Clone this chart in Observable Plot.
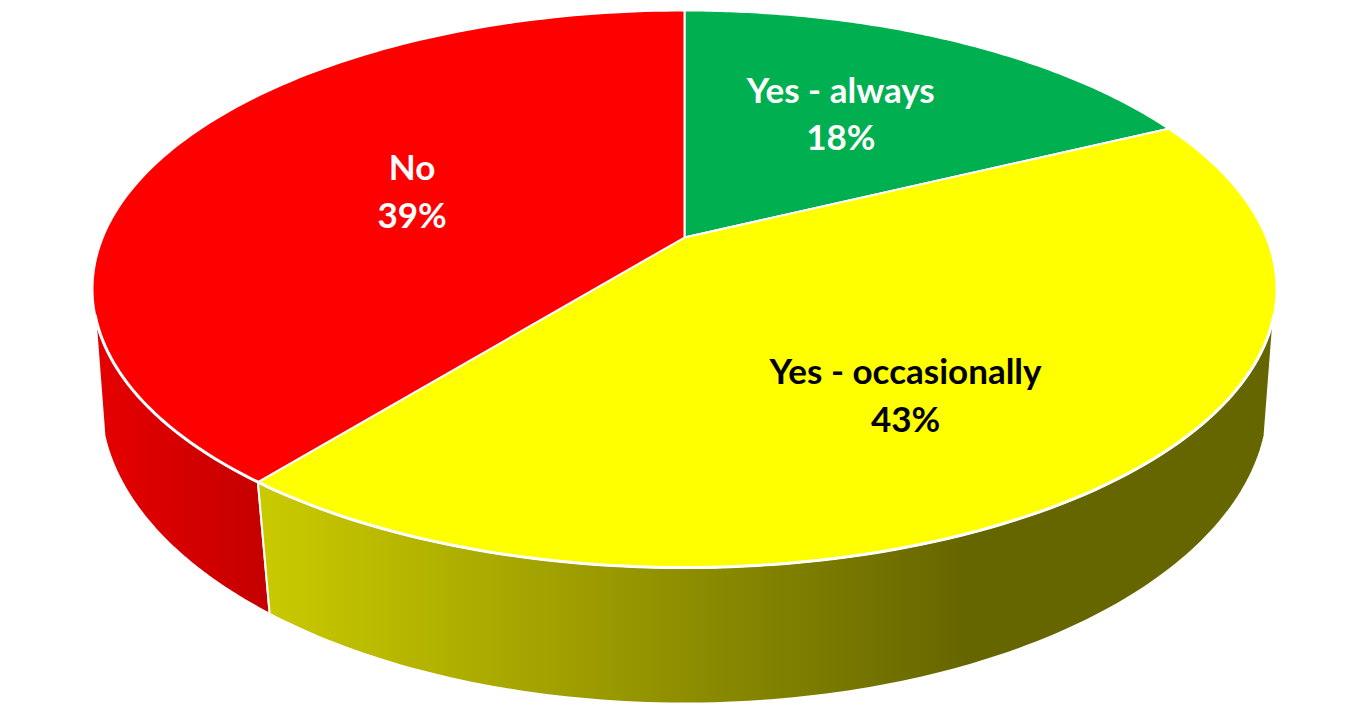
<!DOCTYPE html>
<html>
<head>
<meta charset="utf-8">
<style>html,body{margin:0;padding:0;background:#fff;overflow:hidden}svg{display:block}</style>
<script src="https://cdn.jsdelivr.net/npm/d3@7"></script>
<script src="https://cdn.jsdelivr.net/npm/@observablehq/plot@0.6"></script>
</head>
<body>
<script>
const categories = ["Yes - always", "Yes - occasionally", "No"];
const shares = [17.8, 43.0, 39.2];
const topColors = ["#00b050", "#ffff00", "#ff0000"];
const labelColors = ["#ffffff", "#000000", "#ffffff"];

// Perspective model of the two discs of the pie
const upper = {cx: 684, cy: 237, a: 581.8, b: 269, p: 0.1849};
const lower = {cx: 684, cy: 350, a: 576, b: 294.8, p: 0.165};
const project = (disc, deg, r = 1) => {
  const t = deg * Math.PI / 180, w = 1 + disc.p * r * Math.cos(t);
  return {x: disc.cx + disc.a * r * Math.sin(t) / w, y: disc.cy - disc.b * r * Math.cos(t) / w};
};
const arc = (disc, a0, a1) => d3.range(0, 121).map(i => project(disc, a0 + (a1 - a0) * i / 120));

const total = d3.sum(shares);
let run = 0;
const slices = categories.map((name, i) => {
  const a0 = run / total * 360; run += shares[i];
  const a1 = run / total * 360;
  return {name, value: shares[i], a0, a1, mid: (a0 + a1) / 2, color: topColors[i], label: labelColors[i]};
});

const rimRight = 106, rimLeft = 254;
const topPath = s => [{x: upper.cx, y: upper.cy}, ...arc(upper, s.a0, s.a1)];
const sidePath = (a0, a1) => [...arc(upper, a0, a1), ...arc(lower, a1, a0)];
const seam = slices[1].a1;
const labelShift = [[-13, -1], [-17, 17], [45, 3]];

const gradients = () => {
  const defs = d3.create("svg:defs");
  const grad = (id, x1, x2, stops) => {
    const g = defs.append("linearGradient").attr("id", id).attr("gradientUnits", "userSpaceOnUse")
      .attr("x1", x1).attr("x2", x2).attr("y1", 0).attr("y2", 0);
    stops.forEach(([o, c]) => g.append("stop").attr("offset", o).attr("stop-color", c));
  };
  grad("sideYellow", 270, 965, [[0, "#c9c900"], [1, "#666600"]]);
  grad("sideRed", 95, 270, [[0, "#e60000"], [1, "#c40000"]]);
  return defs.node();
};

const closed = (pts, fill, strokeWidth) => Plot.line(pts, {
  x: "x", y: "y", curve: "linear-closed", fill, stroke: "#ffffff",
  strokeWidth, strokeLinejoin: "round"
});

const chart = Plot.plot({
  width: 1367, height: 716,
  marginTop: 0, marginRight: 0, marginBottom: 0, marginLeft: 0,
  x: {domain: [0, 1367], range: [0, 1367], axis: null},
  y: {domain: [0, 716], range: [0, 716], axis: null},
  marks: [
    gradients,
    closed(sidePath(seam, rimLeft), "url(#sideRed)", 2),
    closed(sidePath(rimRight, seam), "url(#sideYellow)", 2),
    ...slices.map(s => closed(topPath(s), s.color, 2)),
    Plot.line(arc(upper, rimRight, rimLeft), {x: "x", y: "y", stroke: "#ffffff", strokeWidth: 3}),
    ...slices.map((s, i) => Plot.text([s], {
      x: d => project(upper, d.mid, 0.6).x,
      y: d => project(upper, d.mid, 0.6).y,
      text: d => `${d.name}\n${Math.round(d.value)}%`,
      fill: s.label, fontFamily: "Lato", fontWeight: "bold", fontSize: 35,
      lineHeight: 1.36, textAnchor: "middle", lineAnchor: "middle",
      dx: labelShift[i][0], dy: labelShift[i][1]
    }))
  ]
});
document.body.appendChild(chart);
</script>
</body>
</html>
